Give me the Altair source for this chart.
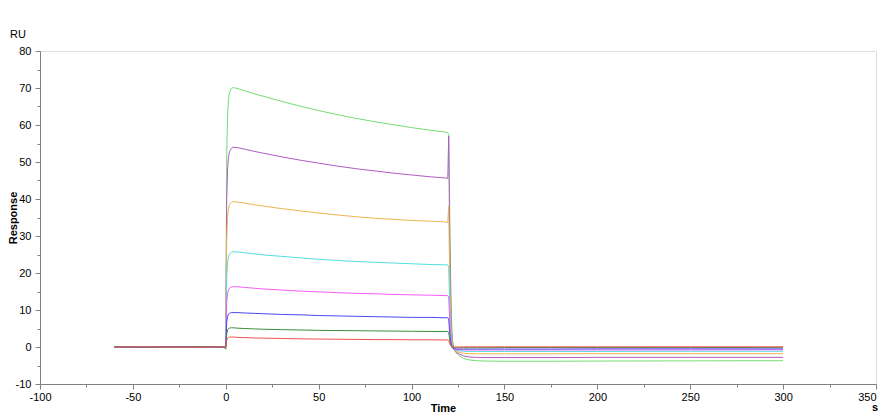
import altair as alt
import pandas as pd

# ---- data (time in s, response in RU) ----
time_s = [-60, -45, -30, -15, -1,
          0, 0.5, 1, 1.5, 2, 3, 4, 6,
          10, 15, 20, 30, 40, 50, 60, 70, 80, 90, 100, 110, 118, 119.5,
          120, 120.5, 121, 121.5, 122, 123, 124, 126, 128, 131, 135, 140,
          150, 175, 200, 250, 300]

resp_green = [0.0, 0.1, -0.1, 0.0, 0.0,
              0.0, 52.0, 63.0, 67.0, 68.8, 69.9, 70.1, 69.9,
              69.3, 68.5, 67.8, 66.4, 65.1, 63.9, 62.8, 61.8, 60.9, 60.1, 59.3, 58.6, 58.1, 57.9,
              57.5, 40.0, 20.0, 8.0, 2.0, -0.8, -1.6, -2.5, -3.1, -3.5, -3.7, -3.8,
              -3.85, -3.85, -3.8, -3.75, -3.7]

resp_purple = [0.05, -0.05, 0.0, 0.05, 0.0,
               0.0, 40.0, 48.5, 51.5, 52.8, 53.7, 54.0, 53.9,
               53.5, 52.9, 52.4, 51.4, 50.5, 49.7, 48.9, 48.2, 47.6, 47.0, 46.5, 46.0, 45.7, 45.6,
               57.0, 30.0, 14.0, 5.0, 1.0, -0.8, -1.4, -2.0, -2.4, -2.7, -2.8, -2.85,
               -2.85, -2.85, -2.8, -2.8, -2.8]

resp_orange = [0.0, 0.05, -0.05, 0.0, 0.05,
               0.0, 29.0, 35.3, 37.5, 38.5, 39.1, 39.3, 39.2,
               38.9, 38.5, 38.1, 37.4, 36.8, 36.2, 35.7, 35.2, 34.8, 34.5, 34.2, 34.0, 33.8, 33.7,
               38.0, 20.0, 9.0, 3.0, 0.5, -0.8, -1.2, -1.5, -1.7, -1.8, -1.85, -1.85,
               -1.85, -1.85, -1.8, -1.8, -1.8]

resp_cyan = [0.05, 0.0, 0.05, -0.05, 0.0,
             0.0, 19.0, 23.0, 24.5, 25.1, 25.6, 25.8, 25.7,
             25.5, 25.2, 24.9, 24.5, 24.1, 23.7, 23.4, 23.1, 22.9, 22.7, 22.5, 22.3, 22.2, 22.2,
             21.5, 12.0, 5.0, 1.5, 0.0, -0.7, -0.9, -1.05, -1.15, -1.2, -1.2, -1.2,
             -1.2, -1.2, -1.2, -1.15, -1.15]

resp_magenta = [-0.05, 0.05, 0.0, 0.0, -0.05,
                0.0, 12.0, 14.6, 15.5, 15.9, 16.2, 16.3, 16.3,
                16.1, 15.9, 15.7, 15.4, 15.1, 14.9, 14.7, 14.5, 14.4, 14.2, 14.1, 14.0, 13.9, 13.9,
                13.5, 7.5, 3.0, 0.8, -0.2, -0.6, -0.7, -0.8, -0.8, -0.8, -0.8, -0.8,
                -0.8, -0.8, -0.8, -0.8, -0.75]

resp_blue = [0.0, -0.05, 0.05, 0.0, 0.0,
             0.0, 6.8, 8.3, 8.9, 9.1, 9.3, 9.3, 9.3,
             9.2, 9.1, 9.0, 8.8, 8.7, 8.5, 8.4, 8.3, 8.2, 8.1, 8.0, 8.0, 7.9, 7.9,
             7.6, 4.0, 1.5, 0.3, -0.3, -0.5, -0.55, -0.55, -0.55, -0.55, -0.55, -0.55,
             -0.55, -0.55, -0.5, -0.5, -0.5]

resp_darkgreen = [0.05, 0.0, -0.05, 0.05, 0.0,
                  -0.6, 3.5, 4.6, 5.0, 5.1, 5.2, 5.2, 5.1,
                  5.0, 4.9, 4.8, 4.7, 4.6, 4.5, 4.45, 4.4, 4.35, 4.3, 4.25, 4.2, 4.2, 4.2,
                  4.0, 2.0, 0.8, 0.2, -0.1, -0.2, -0.2, -0.2, -0.2, -0.2, -0.2, -0.2,
                  -0.15, -0.15, -0.15, -0.15, -0.1]

resp_red = [0.0, 0.05, 0.0, -0.05, 0.05,
            0.0, 1.8, 2.4, 2.6, 2.7, 2.7, 2.7, 2.6,
            2.55, 2.45, 2.4, 2.3, 2.2, 2.15, 2.1, 2.05, 2.0, 2.0, 1.95, 1.95, 1.9, 1.9,
            1.8, 1.0, 0.4, 0.1, 0.0, 0.0, 0.0, 0.0, 0.05, 0.05, 0.05, 0.05,
            0.05, 0.05, 0.05, 0.05, 0.05]

series_names = ["c8", "c7", "c6", "c5", "c4", "c3", "c2", "c1"]
series_values = [resp_green, resp_purple, resp_orange, resp_cyan,
                 resp_magenta, resp_blue, resp_darkgreen, resp_red]
series_colors = ["#74dc74", "#b05cc6", "#ebb54f", "#52dede",
                 "#f55ef5", "#4a4af5", "#3c8f3c", "#f55050"]

x_ticks = list(range(-100, 351, 25))
y_ticks = list(range(-10, 81, 5))

rows = []
for name, vals in zip(series_names, series_values):
    for t, v in zip(time_s, vals):
        rows.append({"time": t, "response": v, "series": name})
df = pd.DataFrame(rows)

FONT = "Liberation Sans"
AX_COLOR = "#808080"

x_axis = alt.Axis(
    values=x_ticks,
    title="Time",
    titleX=403, titleY=27, titleBaseline="alphabetic", titleAlign="center",
    titleFont=FONT, titleFontSize=11, titleFontWeight="bold", titleColor="#000000",
    labelExpr="datum.value % 50 == 0 ? '' + datum.value : ''",
    labelOverlap=False,
    labelFont=FONT, labelFontSize=11, labelColor="#000000", labelPadding=2,
    labelAlign={"condition": {"test": "datum.value >= 350", "value": "right"}, "value": "center"},
    tickSize={"condition": {"test": "datum.value % 50 != 0", "value": 3}, "value": 5},
    tickColor=AX_COLOR, domainColor=AX_COLOR, grid=False,
)

y_axis = alt.Axis(
    values=y_ticks,
    title="Response",
    titleX=-27, titleY=166.5, titleAngle=270, titleBaseline="middle", titleAlign="center",
    titleFont=FONT, titleFontSize=11, titleFontWeight="bold", titleColor="#000000",
    labelExpr="datum.value % 10 == 0 ? '' + datum.value : ''",
    labelOverlap=False,
    labelFont=FONT, labelFontSize=11, labelColor="#000000", labelPadding=4,
    tickSize={"condition": {"test": "datum.value % 10 != 0", "value": 3}, "value": 5},
    tickColor=AX_COLOR, domainColor=AX_COLOR, grid=False,
)

lines = alt.Chart(df).mark_line(strokeWidth=1).encode(
    x=alt.X("time:Q", scale=alt.Scale(domain=[-100, 350], nice=False, zero=False), axis=x_axis),
    y=alt.Y("response:Q", scale=alt.Scale(domain=[-10, 80], nice=False, zero=False), axis=y_axis),
    color=alt.Color("series:N", scale=alt.Scale(domain=series_names, range=series_colors), legend=None),
    detail="series:N",
)

one = pd.DataFrame({"k": [0]})
ru_label = alt.Chart(one).mark_text(
    font=FONT, fontSize=11, color="#000000", align="center", baseline="middle"
).encode(x=alt.value(-22), y=alt.value(-16), text=alt.value("RU"))

s_label = alt.Chart(one).mark_text(
    font=FONT, fontSize=11, fontWeight="bold", color="#000000", align="right", baseline="alphabetic"
).encode(x=alt.value(838), y=alt.value(360), text=alt.value("s"))

chart = alt.layer(lines, ru_label, s_label).properties(
    width=836,
    height=333,
    padding={"left": 32, "top": 43, "right": 3, "bottom": 28},
    autosize=alt.AutoSizeParams(type="none"),
).configure_view(stroke=None).configure(background="white")

chart.save("out.html", embed_options={"renderer": "svg", "actions": False})
